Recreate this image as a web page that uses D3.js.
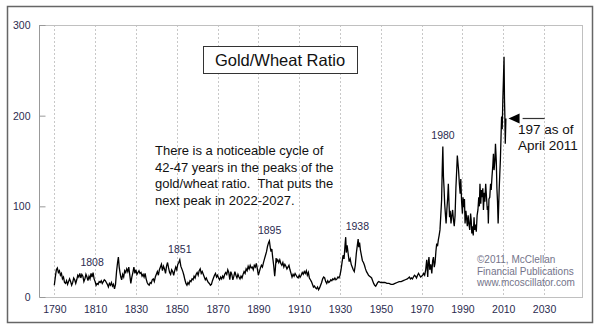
<!DOCTYPE html>
<html>
<head>
<meta charset="utf-8">
<script src="https://cdn.jsdelivr.net/npm/d3@7"></script>
<style>
body { margin:0; background:#fff; }
svg { display:block; font-family: Arial, "Liberation Sans", sans-serif; }
text { white-space: pre; }
</style>
</head>
<body>
<svg></svg>
<script>
// gold/wheat ratio (decimal years)
var years = [
1790,1790.5,1791,1791.5,1792,1792.5,1793,1793.5,1794,1794.5,1795,1795.5,1796,1796.5,1797,1797.5,1798,1798.5,1799,1799.5,
1800,1800.5,1801,1801.5,1802,1802.5,1803,1803.5,1804,1804.5,1805,1805.5,1806,1806.5,1807,1807.5,1808,1808.5,1809,1809.5,
1810,1810.5,1811,1811.5,1812,1812.5,1813,1813.5,1814,1814.5,1815,1815.5,1816,1816.5,1817,1817.5,1818,1818.5,1819,1819.5,
1820,1820.5,1821,1821.4,1821.8,1822.2,1822.6,1823,1823.5,1824,1824.5,1825,1825.5,1826,1826.5,1827,1827.5,1828,1828.5,1829,1829.5,
1830,1830.5,1831,1831.5,1832,1832.5,1833,1833.5,1834,1834.5,1835,1835.5,1836,1836.5,1837,1837.5,1838,1838.5,1839,1839.5,
1840,1840.5,1841,1841.5,1842,1842.5,1843,1843.5,1844,1844.5,1845,1845.5,1846,1846.5,1847,1847.5,1848,1848.5,1849,1849.5,
1850,1850.5,1851,1851.5,1852,1852.5,1853,1853.5,1854,1854.5,1855,1855.5,1856,1856.5,1857,1857.5,1858,1858.5,1859,1859.5,
1860,1860.5,1861,1861.5,1862,1862.5,1863,1863.5,1864,1864.5,1865,1865.5,1866,1866.5,1867,1867.5,1868,1868.5,1869,1869.5,
1870,1870.5,1871,1871.5,1872,1872.5,1873,1873.5,1874,1874.5,1875,1875.5,1876,1876.5,1877,1877.5,1878,1878.5,1879,1879.5,
1880,1880.5,1881,1881.5,1882,1882.5,1883,1883.5,1884,1884.5,1885,1885.5,1886,1886.5,1887,1887.5,1888,1888.5,1889,1889.5,
1890,1890.5,1891,1891.5,1892,1892.5,1893,1893.5,1894,1894.5,1895,1895.4,1895.8,1896.2,1896.6,1897,1897.5,1898,1898.3,1898.7,1899,1899.5,
1900,1900.5,1901,1901.5,1902,1902.5,1903,1903.5,1904,1904.5,1905,1905.5,1906,1906.5,1907,1907.5,1908,1908.5,1909,1909.5,
1910,1910.5,1911,1911.5,1912,1912.5,1913,1913.5,1914,1914.5,1915,1915.5,1916,1916.5,1917,1917.5,1918,1918.5,1919,1919.5,
1920,1920.5,1921,1921.5,1922,1922.5,1923,1923.5,1924,1924.5,1925,1925.5,1926,1926.5,1927,1927.5,1928,1928.5,1929,1929.5,
1930,1930.5,1931,1931.5,1932,1932.5,1932.8,1933.1,1933.5,1934,1934.5,1935,1935.5,1936,1936.5,1937,1937.5,1938,1938.5,1938.9,1939.2,1939.6,
1940,1940.5,1941,1941.5,1942,1942.5,1943,1943.5,1944,1944.5,1945,1945.5,1946,1946.5,1947,1947.5,1948,1948.5,1949,
1950,1951,1952,1953,1954,1955,1956,1957,1958,1959,1960,1961,1962,1963,1964,1964.5,1965,1965.5,1966,1966.5,1967,1967.5,1968,1968.5,1969,1969.5,
1970,1970.5,1971,1971.5,1972,1972.5,1973,1973.3,1973.6,1974,1974.5,1975,1975.4,1975.8,1976.2,1976.6,1977,1977.4,1977.8,1978.2,1978.6,1979,1979.4,1979.8,
1980.1,1980.4,1980.7,1981,1981.3,1981.7,1982,1982.4,1982.8,1983.1,1983.4,1983.7,1984,1984.4,1984.8,1985.2,1985.6,1986,1986.4,1986.8,1987.2,1987.5,1987.8,
1988.1,1988.5,1988.9,1989.2,1989.6,1990,1990.3,1990.6,1991,1991.3,1991.7,1992,1992.4,1992.8,1993.2,1993.6,1994,1994.3,1994.6,1995,1995.3,1995.7,
1996,1996.4,1996.8,1997.2,1997.6,1998,1998.3,1998.6,1999,1999.3,1999.6,2000,2000.3,2000.7,2001,2001.4,2001.8,2002.2,2002.5,2002.7,
2003,2003.4,2003.8,2004.1,2004.5,2004.9,2005.2,2005.5,2005.9,2006.2,2006.6,2006.9,2007.2,2007.5,2007.7,2008,2008.3,2008.6,2008.9,
2009.2,2009.5,2009.8,2010.1,2010.4,2010.6,2010.8,2011,2011.3
]
var ratio = [
13,22,30,32,27,29,24,26,20,22,16,15,18,14,17,20,17,13,16,21,
19,15,19,24,22,26,21,25,23,17,20,25,22,18,23,20,26,22,27,20,
17,13,15,14,17,16,18,15,17,19,18,16,14,11,15,13,16,12,14,9,
14,28,38,44,33,27,22,19,25,22,29,27,31,28,33,24,15,22,27,33,26,
30,25,27,29,26,27,23,25,22,26,20,16,14,13,16,15,19,20,17,22,
25,28,24,30,33,36,29,34,31,26,34,38,32,27,25,30,28,24,29,33,
30,36,38,41,34,31,28,24,19,15,13,16,14,18,17,20,19,23,21,25,
27,24,29,31,26,28,25,22,19,21,18,16,15,13,14,18,21,24,26,22,
24,21,19,22,20,23,21,25,27,25,30,27,19,28,25,19,23,28,24,21,
25,22,20,23,21,25,28,26,31,29,34,31,35,32,33,30,35,33,37,31,
24,28,32,35,33,38,42,46,50,56,60,62,55,50,53,44,35,23,30,43,39,41,
38,41,37,35,38,33,36,34,31,33,35,30,26,22,25,23,26,24,22,21,
24,22,24,27,25,28,26,29,24,27,21,19,17,14,11,12,10,9,11,8,
10,13,16,20,22,21,17,15,18,16,17,19,18,20,19,21,19,20,22,21,
24,30,38,46,42,58,66,49,57,48,39,42,36,33,30,28,35,48,57,64,55,60,
52,46,40,38,35,31,28,26,24,23,22,21,18,15,13,12,14,16,17,
16,16,16,15,15,14,14,15,16,17,17,18,19,20,22,20,21,20,22,24,23,21,24,26,24,22,
23,24,26,24,30,41,22,38,44,30,36,26,40,44,33,38,50,59,56,63,68,74,90,107,
140,166,133,120,103,90,81,97,110,125,105,88,95,81,90,96,85,78,90,120,140,156,148,
140,125,114,130,105,92,110,99,108,81,95,88,78,90,80,74,92,85,70,78,68,88,
74,80,72,90,96,110,100,125,103,118,110,120,96,115,105,125,110,96,100,81,
108,110,125,118,133,145,158,140,150,169,150,120,105,81,95,118,135,151,175,
199,185,217,240,265,220,199,169,197
]

var xTicks = [1790,1810,1830,1850,1870,1890,1910,1930,1950,1970,1990,2010,2030]
var yTicks = [0,100,200,300]

// peak labels: year text and the peak value they sit above
var peakNames = ["1808","1851","1895","1938","1980"]
var peakValues = [27,41,62,66,166]

var noteLines = ["There is a noticeable cycle of",
                 "42-47 years in the peaks of the",
                 "gold/wheat ratio.  That puts the",
                 "next peak in 2022-2027."]
var latestValue = 197
var latestLines = ["197 as of","April 2011"]
var creditLines = ["\u00a92011, McClellan","Financial Publications","www.mcoscillator.com"]

var screen = {width:600, height:333}
var plot = {left:39, right:582, top:25, bottom:297}

var svg = d3.select("svg")
    .attr("width",screen.width)
    .attr("height",screen.height)

// outer frame
svg.append("rect")
    .attr("x",7.5).attr("y",6.5)
    .attr("width",585).attr("height",316)
    .attr("fill","#fff")
    .attr("stroke","#666")
    .attr("stroke-width",1.5)

var xScale = d3.scaleLinear()
    .domain([1782.5,2048.6])
    .range([plot.left,plot.right])
var yScale = d3.scaleLinear()
    .domain([0,300])
    .range([plot.bottom,plot.top])

// dotted vertical grid
svg.append("g")
    .selectAll("line")
    .data(xTicks)
    .enter()
    .append("line")
    .attr("x1",function(d){ return Math.round(xScale(d))+0.5 })
    .attr("x2",function(d){ return Math.round(xScale(d))+0.5 })
    .attr("y1",plot.top)
    .attr("y2",plot.bottom)
    .attr("stroke","#c8c8c8")
    .attr("stroke-dasharray","2,2")

// plot border
svg.append("rect")
    .attr("x",plot.left+0.5).attr("y",plot.top+0.5)
    .attr("width",plot.right-plot.left).attr("height",plot.bottom-plot.top)
    .attr("fill","none")
    .attr("stroke","#c0c0c0")
svg.append("line")
    .attr("x1",plot.left+0.5).attr("x2",plot.left+0.5)
    .attr("y1",plot.top).attr("y2",plot.bottom)
    .attr("stroke","#999")

// y axis
var yAxis = d3.axisRight(yScale)
    .tickValues(yTicks)
    .tickSize(6)
    .tickFormat(d3.format("d"))
var yg = svg.append("g")
    .attr("id","yAxis")
    .attr("transform","translate("+(plot.left+0.5)+",0)")
    .call(yAxis)
yg.select(".domain").remove()
yg.selectAll(".tick line").attr("stroke","#999")
yg.selectAll(".tick text")
    .attr("x",-9)
    .attr("text-anchor","end")
    .attr("fill","#2b2b4f")
    .attr("font-size","10.5px")
    .attr("font-family","Arial, 'Liberation Sans', sans-serif")

// x axis labels
var xAxis = d3.axisBottom(xScale)
    .tickValues(xTicks)
    .tickSize(0)
    .tickPadding(9)
    .tickFormat(d3.format("d"))
var xg = svg.append("g")
    .attr("id","xAxis")
    .attr("transform","translate(0,"+plot.bottom+")")
    .call(xAxis)
xg.select(".domain").remove()
xg.selectAll(".tick text")
    .attr("fill","#2b2b4f")
    .attr("font-size","10.5px")
    .attr("font-family","Arial, 'Liberation Sans', sans-serif")

// the ratio line
var points = years.map(function(y,i){ return [y,ratio[i]] })
var line = d3.line()
    .x(function(d){ return xScale(d[0]) })
    .y(function(d){ return yScale(d[1]) })
svg.append("path")
    .datum(points)
    .attr("d",line)
    .attr("fill","none")
    .attr("stroke","#000")
    .attr("stroke-width",1.3)
    .attr("stroke-linejoin","miter")

// title box
svg.append("rect")
    .attr("x",203.5).attr("y",46.5)
    .attr("width",154).attr("height",27)
    .attr("fill","#fff")
    .attr("stroke","#333")
svg.append("text")
    .attr("x",280).attr("y",66)
    .attr("text-anchor","middle")
    .attr("font-size","16.5px")
    .attr("fill","#111")
    .text("Gold/Wheat Ratio")

// note
svg.append("g")
    .selectAll("text")
    .data(noteLines)
    .enter()
    .append("text")
    .attr("x",155)
    .attr("y",function(d,i){ return 155+i*16.7 })
    .attr("font-size","13px")
    .attr("fill","#111")
    .attr("xml:space","preserve")
    .text(function(d){ return d })

// peak labels
svg.append("g")
    .selectAll("text")
    .data(peakNames)
    .enter()
    .append("text")
    .attr("x",function(d){ return xScale(+d+0.5) })
    .attr("y",function(d,i){ return yScale(peakValues[i])-7 })
    .attr("text-anchor","middle")
    .attr("font-size","10.5px")
    .attr("fill","#2b2b4f")
    .text(function(d){ return d })

// arrow to the latest value
var ay = Math.round(yScale(latestValue))+0.5
svg.append("line")
    .attr("x1",xScale(2019.5)).attr("x2",xScale(2030.3))
    .attr("y1",ay).attr("y2",ay)
    .attr("stroke","#333")
    .attr("stroke-width",1.2)
svg.append("path")
    .attr("d","M"+xScale(2012.6)+","+ay+"l"+11+","+(-5)+"l0,10z")
    .attr("fill","#000")
svg.append("g")
    .selectAll("text")
    .data(latestLines)
    .enter()
    .append("text")
    .attr("x",518)
    .attr("y",function(d,i){ return 134+i*16 })
    .attr("font-size","13.5px")
    .attr("fill","#111")
    .text(function(d){ return d })

// credit
svg.append("g")
    .selectAll("text")
    .data(creditLines)
    .enter()
    .append("text")
    .attr("x",477)
    .attr("y",function(d,i){ return 263+i*11.7 })
    .attr("font-size","10px")
    .attr("fill","#74748a")
    .text(function(d){ return d })
</script>
</body>
</html>
